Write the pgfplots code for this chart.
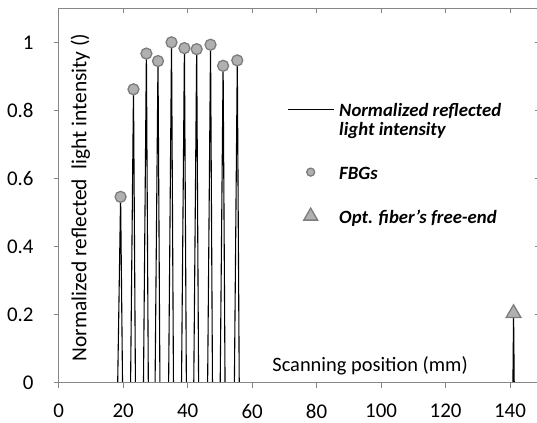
\documentclass[border=0pt]{standalone}
\usepackage{pgfplots}
\pgfplotsset{compat=1.18}
\usepackage{fontspec}
\setmainfont{Carlito}
\definecolor{axgray}{RGB}{134,134,134}
\definecolor{mkfill}{RGB}{176,176,176}
\definecolor{mkedge}{RGB}{125,125,125}
\newcommand{\ls}{\rule[-6bp]{0pt}{22bp}}
\newcommand{\lb}{\rule[-6bp]{0pt}{28bp}}
\pgfplotsset{
  lineleg/.style={legend image code/.code={\draw[##1] (0bp,0bp) -- (46bp,0bp);}},
  circleg/.style={legend image code/.code={\draw[##1, mark size=4bp] plot coordinates {(23bp,0bp)};}},
  trileg/.style={legend image code/.code={\draw[##1, mark size=8bp] plot coordinates {(23bp,0bp)};}},
}
\begin{document}
\begin{tikzpicture}
\useasboundingbox (-58.7bp,-40.3bp) rectangle (478.3bp,382.7bp);
\begin{axis}[
  at={(0,0)}, anchor=south west,
  scale only axis, width=481.3bp, height=374.4bp,
  xmin=0, xmax=149.3, ymin=0, ymax=1.1,
  axis line style={axgray, line width=0.9bp},
  tick style={axgray, line width=0.9bp},
  major tick length=5bp,
  tick align=outside,
  xtick pos=bottom, ytick pos=left,
  xtick={0,20,40,60,80,100,120,140},
  ytick={0,0.2,0.4,0.6,0.8,1},
  /pgf/number format/assume math mode=true,
  ticklabel style={font=\fontsize{21}{24}\selectfont, text=black},
  xticklabel style={inner sep=0pt, yshift=-16bp},
  yticklabel style={inner sep=0pt, xshift=-20bp},
  xlabel={Scanning position (mm)},
  xlabel style={at={(axis description cs:0.647,0.045)}, anchor=center, font=\fontsize{20.5}{24}\selectfont},
  ylabel={Normalized reflected\ \ light intensity ()},
  ylabel style={at={(axis description cs:0.045,0.495)}, anchor=center, font=\fontsize{21.5}{24}\selectfont},
  legend cell align=left,
  legend style={at={(axis cs:70.8,0.83)}, anchor=north west, draw=none, fill=none,
    inner sep=0pt, row sep=1.5bp, column sep=5bp,
    font=\fontsize{18.8}{22}\selectfont\bfseries\itshape,
    nodes={inner sep=0pt}},
]
\addplot[black, line width=1.1bp, lineleg]
  coordinates {
  (0,0) (18.3,0) (19.2,0.546) (19.8,0)
  (22.3,0) (23.2,0.862) (23.8,0)
  (26.3,0) (27.2,0.967) (27.8,0)
  (29.9,0) (30.8,0.945) (31.4,0)
  (34.1,0) (35.0,1.0) (35.6,0)
  (38.1,0) (39.0,0.983) (39.6,0)
  (41.9,0) (42.8,0.980) (43.4,0)
  (46.2,0) (47.1,0.993) (47.7,0)
  (50.1,0) (51.0,0.931) (51.6,0)
  (54.5,0) (55.4,0.947) (56.0,0)
  (140.9,0) (141.1,0.204) (141.3,0) (149.3,0)
  };
\addlegendentry{\ls Normalized reflected}
\addlegendimage{white}
\addlegendentry{\ls light intensity}
\addlegendimage{white}
\addlegendentry{\lb}
\addplot[only marks, mark=*, mark size=5.5bp,
  mark options={fill=mkfill, draw=mkedge, line width=1.3bp}, circleg]
  coordinates {
  (19.2,0.546) (23.2,0.862) (27.2,0.967) (30.8,0.945) (35.0,1.0)
  (39.0,0.983) (42.8,0.980) (47.1,0.993) (51.0,0.931) (55.4,0.947)
  };
\addlegendentry{\ls FBGs}
\addlegendimage{white}
\addlegendentry{\lb}
\addplot[only marks, mark=triangle*, mark size=8.5bp,
  mark options={fill=mkfill, draw=mkedge, line width=1.3bp}, trileg]
  coordinates {(141.1,0.204)};
\addlegendentry{\ls Opt. fiber's free-end}
\end{axis}
\begin{axis}[
  at={(0,0)}, anchor=south west,
  scale only axis, width=481.3bp, height=374.4bp,
  xmin=0, xmax=149.3, ymin=0, ymax=1.1,
  axis line style={axgray, line width=0.9bp},
  tick style={axgray, line width=0.9bp},
  major tick length=5bp,
  tick align=inside,
  xtick pos=top, ytick pos=right,
  xtick={0,20,40,60,80,100,120,140},
  ytick={0,0.2,0.4,0.6,0.8,1},
  xticklabels={}, yticklabels={},
]
\end{axis}
\end{tikzpicture}
\end{document}
